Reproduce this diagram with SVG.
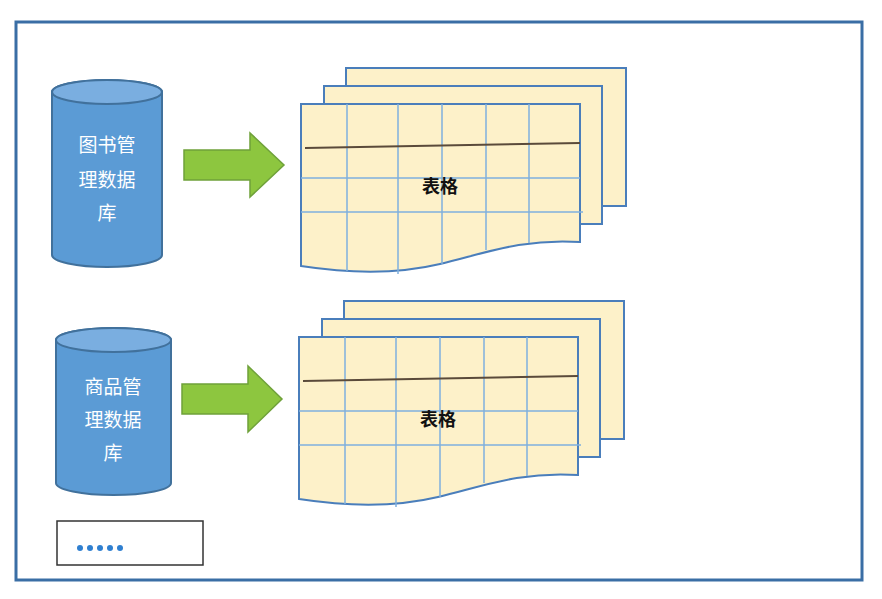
<svg xmlns="http://www.w3.org/2000/svg" width="882" height="599" viewBox="0 0 882 599">
<style>
.sheet{fill:#fdf1c9;stroke:#4a7ebb;stroke-width:2}
.grid{stroke:#7fb0de;stroke-width:1.5;fill:none}
.cyl{fill:#5b9bd5;stroke:#41719c;stroke-width:2}
.ct{font-family:"Noto Sans CJK SC",sans-serif;font-size:19px;fill:#fff;text-anchor:middle}
.tt{font-family:"Noto Sans CJK SC",sans-serif;font-size:18px;font-weight:bold;fill:#111;text-anchor:middle}
.arr{fill:#8dc63f;stroke:#6fa13a;stroke-width:1.5}
</style>
<rect width="882" height="599" fill="#fff"/>
<rect x="16" y="22" width="846" height="558" fill="none" stroke="#3a6ea5" stroke-width="3"/>
<g id="db1">
<path class="cyl" d="M52,92 V255 A55,12 0 0 0 162,255 V92 A55,12 0 0 0 52,92 Z"/>
<ellipse cx="107" cy="92" rx="55" ry="12" fill="#7aaee0" stroke="#41719c" stroke-width="2"/>
<text class="ct" x="107" y="152">图书管</text><text class="ct" x="107" y="187">理数据</text><text class="ct" x="107" y="220">库</text>
</g>
<g id="db2">
<path class="cyl" d="M56,340 V483 A57,12 0 0 0 171,483 V340 A57,12 0 0 0 56,340 Z"/>
<ellipse cx="113.5" cy="340" rx="57.5" ry="12" fill="#7aaee0" stroke="#41719c" stroke-width="2"/>
<text class="ct" x="113" y="394">商品管</text><text class="ct" x="113" y="427">理数据</text><text class="ct" x="113" y="460">库</text>
</g>
<g id="connectors">
<path class="arr" d="M184,150 H250 V133 L284,165 L250,197 V180 H184 Z"/>
<path class="arr" d="M182,384 H248 V366 L282,399 L248,432 V414 H182 Z"/>
</g>
<g id="table1">
<rect class="sheet" x="346" y="68" width="280" height="138"/>
<rect class="sheet" x="324" y="86" width="278" height="138"/>
<path class="sheet" d="M301,104 H580 V242 C520,238 480,255 440,264 C390,276 340,272 301,266 Z"/>
<path class="grid" d="M347,104 V271 M398,104 V274 M442,104 V264 M486,104 V250 M529,104 V243 M301,178 H580 M301,212 H583"/>
<path d="M305,148 L580,143" stroke="#5a4a3a" stroke-width="2"/>
<text class="tt" x="440" y="193">表格</text>
</g>
<g id="table2">
<rect class="sheet" x="344" y="301" width="280" height="138"/>
<rect class="sheet" x="322" y="319" width="278" height="138"/>
<path class="sheet" d="M299,337 H578 V475 C518,471 478,488 438,497 C388,509 338,505 299,499 Z"/>
<path class="grid" d="M345,337 V504 M396,337 V507 M440,337 V497 M484,337 V483 M527,337 V476 M299,411 H578 M299,445 H581"/>
<path d="M303,381 L578,376" stroke="#5a4a3a" stroke-width="2"/>
<text class="tt" x="438" y="426">表格</text>
</g>
<g id="more">
<rect x="57" y="521" width="146" height="44" fill="#fff" stroke="#333" stroke-width="1.5"/>
<g fill="#2f7fd0"><circle cx="80" cy="548" r="3"/><circle cx="90" cy="548" r="3"/><circle cx="100" cy="548" r="3"/><circle cx="110" cy="548" r="3"/><circle cx="120" cy="548" r="3"/></g>
</g>
</svg>
